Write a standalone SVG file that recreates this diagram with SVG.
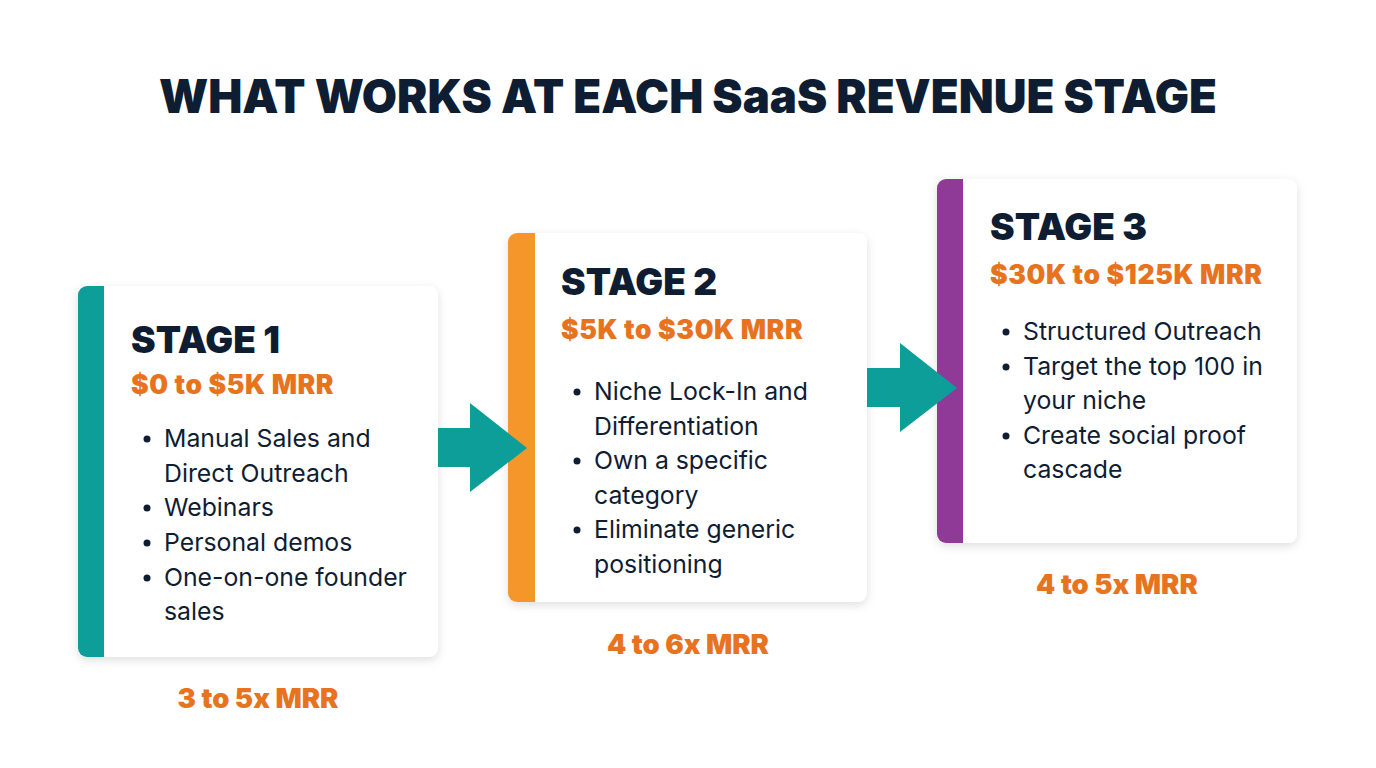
<svg xmlns="http://www.w3.org/2000/svg" width="1376" height="768" viewBox="0 0 1376 768">
<defs>
<filter id="sh" x="-10%" y="-10%" width="120%" height="125%">
<feDropShadow dx="0" dy="3" stdDeviation="5" flood-color="#000" flood-opacity="0.13"/>
</filter>
<clipPath id="c1"><rect x="78" y="286" width="360" height="371" rx="9"/></clipPath>
<clipPath id="c2"><rect x="508" y="233" width="359" height="369" rx="9"/></clipPath>
<clipPath id="c3"><rect x="937" y="179" width="360" height="364" rx="9"/></clipPath>
</defs>
<style>
.card{fill:#fff;filter:url(#sh)}
.title{font-family:Inter,"Liberation Sans",sans-serif;font-weight:900;font-size:47px;fill:#0f1d33;text-anchor:middle}
.stage{font-family:Inter,"Liberation Sans",sans-serif;font-weight:900;font-size:37px;fill:#0f1d33}
.sub{font-family:Inter,"Liberation Sans",sans-serif;font-weight:900;font-size:26.5px;letter-spacing:0.6px;fill:#e8731f}
.item{font-family:Inter,"Liberation Sans",sans-serif;font-weight:400;font-size:24.8px;fill:#0f1d33}
.dot{fill:#0f1d33}
.mult{font-family:Inter,"Liberation Sans",sans-serif;font-weight:900;font-size:27.5px;fill:#e8731f;text-anchor:middle}
.arrow{fill:#0e9e9a}
</style>
<rect width="1376" height="768" fill="#fff"/>
<text class="title" x="688" y="113" textLength="1058" lengthAdjust="spacingAndGlyphs">WHAT WORKS AT EACH SaaS REVENUE STAGE</text>

<g id="stage1">
<rect class="card" x="78" y="286" width="360" height="371" rx="9"/>
<rect x="78" y="286" width="26" height="371" fill="#0e9e9a" clip-path="url(#c1)"/>
<text class="stage" x="131" y="353">STAGE 1</text>
<text class="sub" x="131" y="394">$0 to $5K MRR</text>
<circle class="dot" cx="147" cy="439" r="3.5"/>
<circle class="dot" cx="147" cy="508" r="3.5"/>
<circle class="dot" cx="147" cy="543" r="3.5"/>
<circle class="dot" cx="147" cy="578" r="3.5"/>
<text class="item" x="164" y="447">Manual Sales and</text>
<text class="item" x="164" y="482">Direct Outreach</text>
<text class="item" x="164" y="516">Webinars</text>
<text class="item" x="164" y="551">Personal demos</text>
<text class="item" x="164" y="586">One-on-one founder</text>
<text class="item" x="164" y="620">sales</text>
<text class="mult" x="258" y="708">3 to 5x MRR</text>
</g>

<g id="stage2">
<rect class="card" x="508" y="233" width="359" height="369" rx="9"/>
<rect x="508" y="233" width="27" height="369" fill="#f5962a" clip-path="url(#c2)"/>
<text class="stage" x="561" y="295">STAGE 2</text>
<text class="sub" x="561" y="339">$5K to $30K MRR</text>
<circle class="dot" cx="577" cy="392" r="3.5"/>
<circle class="dot" cx="577" cy="461" r="3.5"/>
<circle class="dot" cx="577" cy="530" r="3.5"/>
<text class="item" x="594" y="400">Niche Lock-In and</text>
<text class="item" x="594" y="435">Differentiation</text>
<text class="item" x="594" y="469">Own a specific</text>
<text class="item" x="594" y="504">category</text>
<text class="item" x="594" y="538">Eliminate generic</text>
<text class="item" x="594" y="573">positioning</text>
<text class="mult" x="688" y="654">4 to 6x MRR</text>
</g>

<g id="stage3">
<rect class="card" x="937" y="179" width="360" height="364" rx="9"/>
<rect x="937" y="179" width="26" height="364" fill="#8e3a96" clip-path="url(#c3)"/>
<text class="stage" x="990" y="240">STAGE 3</text>
<text class="sub" x="990" y="284">$30K to $125K MRR</text>
<circle class="dot" cx="1006" cy="332" r="3.5"/>
<circle class="dot" cx="1006" cy="367" r="3.5"/>
<circle class="dot" cx="1006" cy="436" r="3.5"/>
<text class="item" x="1023" y="340">Structured Outreach</text>
<text class="item" x="1023" y="375">Target the top 100 in</text>
<text class="item" x="1023" y="409">your niche</text>
<text class="item" x="1023" y="444">Create social proof</text>
<text class="item" x="1023" y="478">cascade</text>
<text class="mult" x="1117" y="594">4 to 5x MRR</text>
</g>

<g id="connectors">
<path class="arrow" d="M438 428 H470 V403 L527 448 L470 492 V467 H438 Z"/>
<path class="arrow" d="M867 368 H900 V343 L957 388 L900 432 V407 H867 Z"/>
</g>
</svg>
